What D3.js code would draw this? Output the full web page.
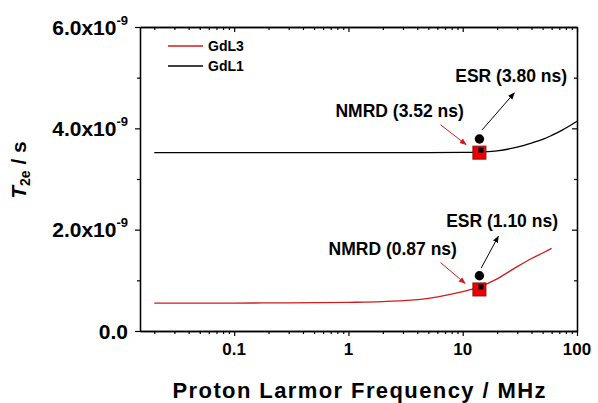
<!DOCTYPE html>
<html>
<head>
<meta charset="utf-8">
<script src="https://cdn.jsdelivr.net/npm/d3@7"></script>
<style>
  body { margin: 0; background: #fff; }
  svg { display: block; font-family: "Liberation Sans", Arial, sans-serif; font-weight: bold; }
</style>
</head>
<body>
<div id="chart"></div>
<script>
// Data (frequency in MHz, T2e in units of 1e-9 s)
var freqGdL1 = [0.02, 0.05, 0.1, 0.3, 1, 3, 5, 10, 15, 20, 30, 40, 50, 60, 75, 100];
var t2eGdL1  = [3.52, 3.52, 3.52, 3.52, 3.52, 3.52, 3.52, 3.525, 3.535, 3.555, 3.63, 3.71, 3.78, 3.86, 3.97, 4.14];

var freqGdL3 = [0.02, 0.05, 0.1, 0.3, 1, 2, 5, 10, 14, 20, 30, 40, 50, 60];
var t2eGdL3  = [0.55, 0.55, 0.552, 0.555, 0.565, 0.58, 0.645, 0.775, 0.87, 1.03, 1.27, 1.43, 1.54, 1.63];

// measured points at X-band (NMRD fit / ESR)
var pointFreq   = [14, 14];
var nmrdValues  = [3.52, 0.82];
var nmrdInner   = [3.57, 0.87];
var esrValues   = [3.79, 1.09];

var legendLabels = ["GdL3", "GdL1"];
var legendColors = ["#d01c1c", "#000000"];

var yTicks = [0, 2, 4, 6];
var yMinorTicks = [1, 3, 5];
var xTicks = [0.1, 1, 10, 100];
var xTickLabels = ["0.1", "1", "10", "100"];

// annotations: text start (freq, value), arrow start/end (freq, value)
var annotations = [
  { text: "ESR (3.80 ns)",  tx: 8.6,  ty: 4.91, color: "#000", from: [14.8, 3.97], to: [28.3, 4.70] },
  { text: "NMRD (3.52 ns)", tx: 0.77, ty: 4.23, color: "#d01c1c", from: [6.4, 4.07], to: [10.7, 3.68] },
  { text: "ESR (1.10 ns)",  tx: 7.16, ty: 2.05, color: "#000", from: [14.5, 1.24], to: [20.5, 1.87] },
  { text: "NMRD (0.87 ns)", tx: 0.67, ty: 1.50, color: "#d01c1c", from: [6.4, 1.35], to: [10.5, 0.94] }
];

var attrs = {
  svgWidth: 598,
  svgHeight: 403,
  marginLeft: 140,
  marginTop: 27,
  marginRight: 21,
  marginBottom: 72
};

var chartWidth = attrs.svgWidth - attrs.marginLeft - attrs.marginRight;
var chartHeight = attrs.svgHeight - attrs.marginTop - attrs.marginBottom;

var xScale = d3.scaleLog().domain([0.015, 100]).range([0, chartWidth]);
var yScale = d3.scaleLinear().domain([0, 6]).range([chartHeight, 0]);

var xMinor = [];
[0.01, 0.1, 1, 10].forEach(function (dec) {
  for (var k = 2; k <= 9; k++) {
    var v = +(dec * k).toPrecision(3);
    if (v >= 0.015 && v < 100) xMinor.push(v);
  }
});

var svg = d3.select("#chart").append("svg")
  .attr("width", attrs.svgWidth)
  .attr("height", attrs.svgHeight);

var defs = svg.append("defs");
["#000", "#d01c1c"].forEach(function (c, i) {
  defs.append("marker")
    .attr("id", "arrow" + i)
    .attr("viewBox", "0 0 10 10")
    .attr("refX", 9).attr("refY", 5)
    .attr("markerWidth", 7).attr("markerHeight", 7)
    .attr("markerUnits", "userSpaceOnUse")
    .attr("orient", "auto")
    .append("path")
    .attr("d", "M0,1 L10,5 L0,9 Z")
    .attr("fill", c);
});

var chart = svg.append("g")
  .attr("transform", "translate(" + attrs.marginLeft + "," + attrs.marginTop + ")");

// axes
function styleAxis(g) {
  g.selectAll("path").attr("stroke", "#000").attr("stroke-width", 1.3);
  g.selectAll("line").attr("stroke", "#000").attr("stroke-width", 1.2);
  g.selectAll("text").remove();
}

chart.append("g").attr("transform", "translate(0," + chartHeight + ")")
  .call(d3.axisBottom(xScale).tickValues(xTicks).tickSizeInner(5).tickSizeOuter(0).tickFormat(""))
  .call(styleAxis);
chart.append("g").attr("transform", "translate(0," + chartHeight + ")")
  .call(d3.axisBottom(xScale).tickValues(xMinor).tickSizeInner(3).tickSizeOuter(0).tickFormat(""))
  .call(styleAxis);
chart.append("g")
  .call(d3.axisTop(xScale).tickValues(xTicks).tickSizeInner(-5).tickSizeOuter(0).tickFormat(""))
  .call(styleAxis);
chart.append("g")
  .call(d3.axisTop(xScale).tickValues(xMinor).tickSizeInner(-3).tickSizeOuter(0).tickFormat(""))
  .call(styleAxis);

chart.append("g")
  .call(d3.axisLeft(yScale).tickValues(yTicks).tickSizeInner(5).tickSizeOuter(0).tickFormat(""))
  .call(styleAxis);
chart.append("g")
  .call(d3.axisLeft(yScale).tickValues(yMinorTicks).tickSizeInner(3).tickSizeOuter(0).tickFormat(""))
  .call(styleAxis);
chart.append("g").attr("transform", "translate(" + chartWidth + ",0)")
  .call(d3.axisRight(yScale).tickValues(yTicks).tickSizeInner(-5).tickSizeOuter(0).tickFormat(""))
  .call(styleAxis);
chart.append("g").attr("transform", "translate(" + chartWidth + ",0)")
  .call(d3.axisRight(yScale).tickValues(yMinorTicks).tickSizeInner(-3).tickSizeOuter(0).tickFormat(""))
  .call(styleAxis);

// x tick labels
chart.selectAll(".x-label").data(xTicks).enter().append("text")
  .attr("class", "x-label")
  .attr("x", d => xScale(d))
  .attr("y", chartHeight + 24)
  .attr("text-anchor", "middle")
  .attr("font-size", 17)
  .text((d, i) => xTickLabels[i]);

// y tick labels
var yLab = chart.selectAll(".y-label").data(yTicks).enter().append("text")
  .attr("class", "y-label")
  .attr("x", -12)
  .attr("y", d => yScale(d))
  .attr("dy", "0.36em")
  .attr("text-anchor", "end")
  .attr("font-size", 21);
yLab.each(function (d) {
  var t = d3.select(this);
  if (d === 0) { t.text("0.0"); return; }
  t.append("tspan").text(d.toFixed(1) + "x10");
  t.append("tspan").attr("font-size", 13).attr("dy", "-0.75em").text("-9");
});

// axis titles
svg.append("text")
  .attr("x", attrs.marginLeft + 219)
  .attr("y", 398)
  .attr("text-anchor", "middle")
  .attr("font-size", 22)
  .attr("textLength", 373)
  .text("Proton Larmor Frequency / MHz");

var yTitle = svg.append("text")
  .attr("transform", "translate(26,170) rotate(-90)")
  .attr("text-anchor", "middle")
  .attr("font-size", 21);
yTitle.append("tspan").attr("font-style", "italic").text("T");
yTitle.append("tspan").attr("font-size", 14).attr("dy", "0.3em").text("2e");
yTitle.append("tspan").attr("dy", "-0.2em").text(" / s");

// curves
var line = d3.line()
  .x(d => xScale(d[0]))
  .y(d => yScale(d[1]))
  .curve(d3.curveMonotoneX);

chart.append("path")
  .datum(freqGdL1.map((f, i) => [f, t2eGdL1[i]]))
  .attr("d", line)
  .attr("fill", "none")
  .attr("stroke", legendColors[1])
  .attr("stroke-width", 1.3);

chart.append("path")
  .datum(freqGdL3.map((f, i) => [f, t2eGdL3[i]]))
  .attr("d", line)
  .attr("fill", "none")
  .attr("stroke", legendColors[0])
  .attr("stroke-width", 1.3);

// arrows and annotation labels
chart.selectAll(".arrow").data(annotations).enter().append("line")
  .attr("class", "arrow")
  .attr("x1", d => xScale(d.from[0]))
  .attr("y1", d => yScale(d.from[1]))
  .attr("x2", d => xScale(d.to[0]))
  .attr("y2", d => yScale(d.to[1]))
  .attr("stroke", d => d.color)
  .attr("stroke-width", 1)
  .attr("marker-end", d => d.color === "#000" ? "url(#arrow0)" : "url(#arrow1)");

chart.selectAll(".note").data(annotations).enter().append("text")
  .attr("class", "note")
  .attr("x", d => xScale(d.tx))
  .attr("y", d => yScale(d.ty))
  .attr("font-size", 17.5)
  .text(d => d.text);

// markers
pointFreq.forEach(function (f, i) {
  chart.append("rect")
    .attr("x", xScale(f) - 6.5)
    .attr("y", yScale(nmrdValues[i]) - 6.5)
    .attr("width", 13).attr("height", 13)
    .attr("fill", "#ee0000")
    .attr("stroke", "#8a1010")
    .attr("stroke-width", 1);
  chart.append("rect")
    .attr("x", xScale(f * 1.03) - 2.5)
    .attr("y", yScale(nmrdInner[i]) - 2.5)
    .attr("width", 5).attr("height", 5)
    .attr("fill", "#000");
  chart.append("circle")
    .attr("cx", xScale(f))
    .attr("cy", yScale(esrValues[i]))
    .attr("r", 4.7)
    .attr("fill", "#000");
});

// legend
var legend = chart.append("g").attr("transform", "translate(28,19)");
legendLabels.forEach(function (lab, i) {
  legend.append("line")
    .attr("x1", 0).attr("x2", 35)
    .attr("y1", i * 20).attr("y2", i * 20)
    .attr("stroke", legendColors[i])
    .attr("stroke-width", 1.3);
  legend.append("text")
    .attr("x", 40)
    .attr("y", i * 20 + 5)
    .attr("font-size", 14)
    .text(lab);
});
</script>
</body>
</html>
